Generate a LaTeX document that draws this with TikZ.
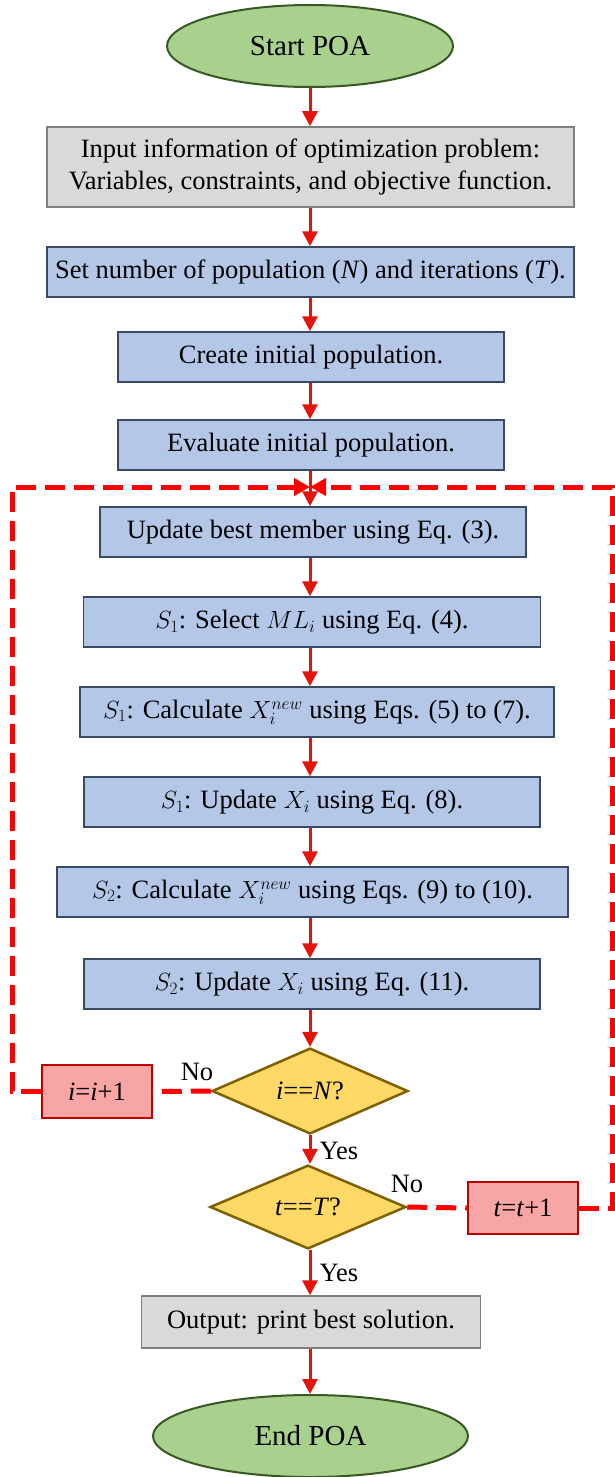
\documentclass[tikz,border=0pt]{standalone}
\usepackage{fontspec}
\setmainfont{Liberation Serif}
\usetikzlibrary{shapes.geometric,arrows.meta}

\definecolor{termfill}{HTML}{A9D18E}
\definecolor{termdraw}{HTML}{385723}
\definecolor{iofill}{HTML}{D9D9D9}
\definecolor{iodraw}{HTML}{7F7F7F}
\definecolor{procfill}{HTML}{B4C7E7}
\definecolor{procdraw}{HTML}{3A4A66}
\definecolor{decfill}{HTML}{FFD966}
\definecolor{decdraw}{HTML}{7F6000}
\definecolor{incfill}{HTML}{F8A5A5}
\definecolor{incdraw}{HTML}{C00000}
\definecolor{flow}{HTML}{E3140A}
\definecolor{loopc}{HTML}{FF0000}

\tikzset{
  base/.style={inner sep=0pt, align=center},
  term/.style={base, ellipse, draw=termdraw, fill=termfill, line width=2pt,
    font=\fontsize{29}{34}\selectfont},
  iobox/.style={base, rectangle, draw=iodraw, fill=iofill, line width=1.5pt},
  proc/.style={base, rectangle, draw=procdraw, fill=procfill, line width=1.5pt,
    minimum height=50pt},
  decision/.style={base, diamond, draw=decdraw, fill=decfill, line width=2.5pt,
    minimum width=196pt, minimum height=68pt},
  incbox/.style={base, rectangle, draw=incdraw, fill=incfill, line width=1.2pt,
    minimum width=110pt, minimum height=53pt},
  flowarrow/.style={draw=flow, line width=3pt, -{Triangle[width=15pt,length=15pt]}},
  loopline/.style={draw=loopc, line width=5pt, dash pattern=on 20pt off 9pt},
  looparrow/.style={loopline, -{Triangle[width=17pt,length=16pt]}},
  lbl/.style={inner sep=0pt}
}

\begin{document}
\begin{tikzpicture}[x=1pt, y=-1pt, font=\fontsize{26.5}{32}\selectfont]
\useasboundingbox (0,0) rectangle (615,1477);

% main column
\node[term, minimum width=286pt, minimum height=82pt] (start) at (310,46) {Start POA};
\node[iobox, minimum width=527pt, minimum height=80pt] (input) at (310.5,167)
  {Input information of optimization problem:\\Variables, constraints, and objective function.};
\node[proc, minimum width=527pt] (setn) at (310.5,272)
  {Set number of population (\textit{N}) and iterations (\textit{T}).};
\node[proc, minimum width=386pt] (create) at (311,357) {Create initial population.};
\node[proc, minimum width=386pt] (eval) at (311,445) {Evaluate initial population.};
\coordinate (join) at (310,487);
\node[proc, minimum width=426pt] (update) at (313,532) {Update best member using Eq. (3).};
\node[proc, minimum width=457pt] (sel) at (312,622) {$S_1$: Select $ML_i$ using Eq. (4).};
\node[proc, minimum width=474pt] (calc1) at (317,712) {$S_1$: Calculate $X_i^{new}$ using Eqs. (5) to (7).};
\node[proc, minimum width=456pt] (upd1) at (312,802) {$S_1$: Update $X_i$ using Eq. (8).};
\node[proc, minimum width=511pt] (calc2) at (312.5,892) {$S_2$: Calculate $X_i^{new}$ using Eqs. (9) to (10).};
\node[proc, minimum width=456pt] (upd2) at (312,984) {$S_2$: Update $X_i$ using Eq. (11).};
\node[decision] (dN) at (310,1091) {\textit{i}==\textit{N}?};
\node[incbox] (iinc) at (97,1091.5) {\textit{i}=\textit{i}+1};
\node[decision] (dT) at (308,1207) {\textit{t}==\textit{T}?};
\node[incbox, minimum height=52pt] (tinc) at (523,1208) {\textit{t}=\textit{t}+1};
\node[iobox, minimum width=339pt, minimum height=52pt] (out) at (311,1322) {Output: print best solution.};
\node[term, minimum width=315pt, minimum height=82pt] (end) at (310.5,1436) {End POA};

% loop corners
\coordinate (lc) at (12,487);
\coordinate (rc) at (612,487);

% main flow
\draw[flowarrow] (start.south) -- (start.south |- input.north);
\draw[flowarrow] (input.south -| start.south) -- (start.south |- setn.north);
\draw[flowarrow] (setn.south -| start.south) -- (start.south |- create.north);
\draw[flowarrow] (create.south -| start.south) -- (start.south |- eval.north);
\draw[flowarrow] (eval.south -| start.south) -- (start.south |- update.north);
\draw[flowarrow] (update.south -| start.south) -- (start.south |- sel.north);
\draw[flowarrow] (sel.south -| start.south) -- (start.south |- calc1.north);
\draw[flowarrow] (calc1.south -| start.south) -- (start.south |- upd1.north);
\draw[flowarrow] (upd1.south -| start.south) -- (start.south |- calc2.north);
\draw[flowarrow] (calc2.south -| start.south) -- (start.south |- upd2.north);
\draw[flowarrow] (upd2.south -| start.south) -- (dN.north);
\draw[flowarrow] (dN.south) -- (dT.north -| dN.south);
\draw[flowarrow] (dT.south -| dN.south) -- (out.north -| dN.south);
\draw[flowarrow] (out.south -| dN.south) -- (end.north -| dN.south);

% inner loop: i = i + 1
\draw[loopline] (dN.west) -- (iinc.east);
\draw[looparrow] (iinc.west) -| (lc) -- (join);
% outer loop: t = t + 1
\draw[loopline] (dT.east) -- (tinc.west);
\draw[looparrow] (tinc.east) -| (rc) -- (join);

% branch labels
\node[lbl] (noN) at (197,1072) {No};
\node[lbl] (yesN) at (339,1151) {Yes};
\node[lbl] (noT) at (407,1184) {No};
\node[lbl] (yesT) at (339,1273) {Yes};
\end{tikzpicture}
\end{document}
